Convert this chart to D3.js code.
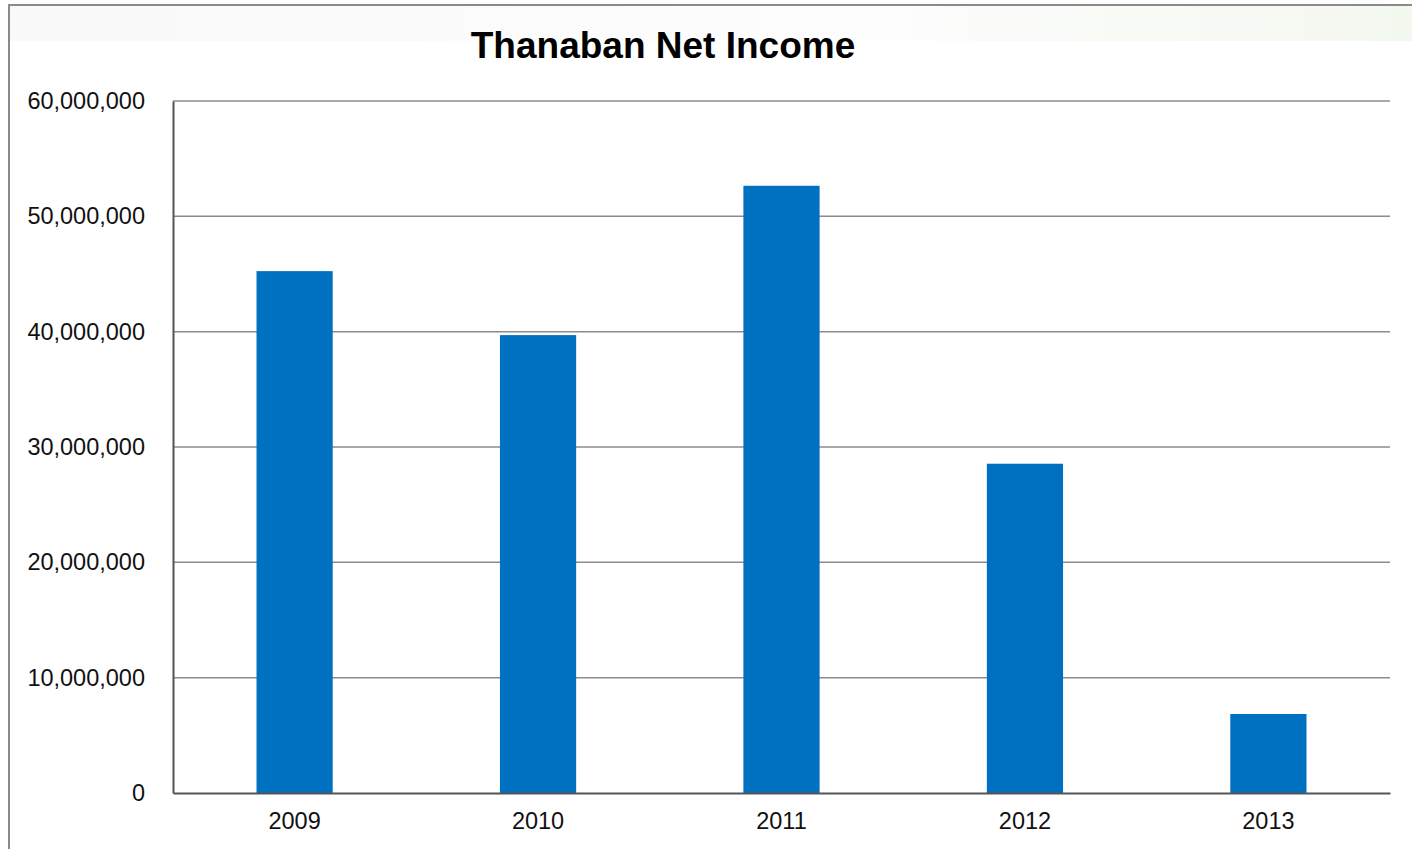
<!DOCTYPE html>
<html><head><meta charset="utf-8">
<script src="https://cdn.jsdelivr.net/npm/d3@7"></script>
<style>
html,body{margin:0;padding:0;background:#fff;overflow:hidden;}
text{font-family:"Liberation Sans",Arial,sans-serif;}
</style></head>
<body>
<svg id="chart" width="1412" height="849"></svg>
<script>
const categories = ["2009","2010","2011","2012","2013"];
const netIncome = [45250000, 39700000, 52650000, 28550000, 6850000];
const yTicks = [0,10000000,20000000,30000000,40000000,50000000,60000000];
const title = "Thanaban Net Income";

const svg = d3.select("#chart");
const W = 1412, H = 849;
const margin = {left:173, right:22, top:101, bottom:56};

// faint background decoration at top
const defs = svg.append("defs");
const grad = defs.append("linearGradient").attr("id","topg").attr("x1","0").attr("x2","1");
grad.append("stop").attr("offset","0").attr("stop-color","#f9f9f9");
grad.append("stop").attr("offset","0.6").attr("stop-color","#fdfdfd");
grad.append("stop").attr("offset","1").attr("stop-color","#f3f8ef");
svg.append("rect").attr("x",9).attr("y",6).attr("width",W).attr("height",35).attr("fill","url(#topg)");

// frame
svg.append("rect").attr("x",9).attr("y",5).attr("width",W+10).attr("height",H+10)
  .attr("fill","none").attr("stroke","#8a8a8a").attr("stroke-width",2);

const x = d3.scaleBand().domain(categories).range([margin.left, W-margin.right]).paddingInner(0.687).paddingOuter(0.343);
const y = d3.scaleLinear().domain([0,60000000]).range([H-margin.bottom, margin.top]);

// gridlines
svg.append("g").selectAll("line").data(yTicks.filter(d=>d>0)).join("line")
  .attr("x1",margin.left).attr("x2",W-margin.right)
  .attr("y1",d=>y(d)).attr("y2",d=>y(d))
  .attr("stroke","#8c8c8c").attr("stroke-width",1.5);

// bars
svg.append("g").selectAll("rect").data(netIncome).join("rect")
  .attr("x",(d,i)=>x(categories[i]))
  .attr("width",x.bandwidth())
  .attr("y",d=>y(d))
  .attr("height",d=>y(0)-y(d))
  .attr("fill","#0070c0");

// y axis
const yAxis = d3.axisLeft(y).tickValues(yTicks).tickSize(0).tickPadding(28)
  .tickFormat(d3.format(",d"));
const gy = svg.append("g").attr("transform",`translate(${margin.left},0)`).call(yAxis);
gy.select(".domain").attr("stroke","#555").attr("stroke-width",2);
gy.selectAll("text").attr("font-size",23.5).attr("fill","#111").attr("font-family","Liberation Sans, Arial, sans-serif");

// x axis
const xAxis = d3.axisBottom(x).tickSize(0).tickPadding(19);
const gx = svg.append("g").attr("transform",`translate(0,${y(0)})`).call(xAxis);
gx.select(".domain").attr("stroke","#555").attr("stroke-width",2);
gx.selectAll("text").attr("font-size",23.5).attr("fill","#111").attr("font-family","Liberation Sans, Arial, sans-serif");

// title
svg.append("text").attr("x",663).attr("y",58).attr("text-anchor","middle")
  .attr("font-size",37).attr("font-weight","bold").attr("fill","#000").text(title);
</script>
</body></html>
